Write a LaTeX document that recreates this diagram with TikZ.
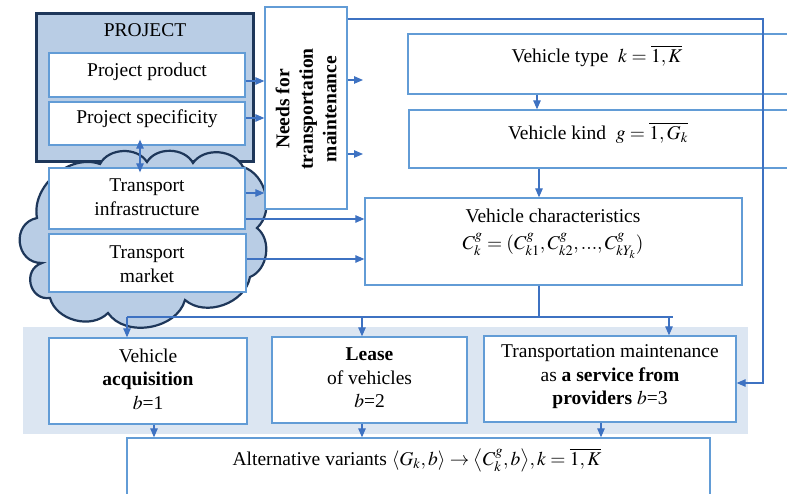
\documentclass[tikz,border=0pt]{standalone}
\usepackage{mathptmx}
\usepackage{fontspec}
\setmainfont{Liberation Serif}
\usetikzlibrary{arrows.meta,calc}
\definecolor{boxc}{RGB}{98,156,214}
\definecolor{arrc}{RGB}{62,114,194}
\definecolor{navy}{RGB}{30,55,90}
\definecolor{cloudfill}{RGB}{185,205,229}
\definecolor{bandc}{RGB}{220,230,242}
\newcommand\myfs{\fontsize{19.5}{23.5}\selectfont}
\tikzset{
  box/.style={draw=boxc, line width=1.3pt, fill=white, inner sep=0pt},
  arr/.style={draw=arrc, line width=1.1pt, -{Triangle[length=9pt,width=7.5pt]}},
  darr/.style={draw=arrc, line width=1.1pt, {Triangle[length=9pt,width=7.5pt]}-{Triangle[length=9pt,width=7.5pt]}},
  ln/.style={draw=arrc, line width=1.1pt},
  txt/.style={align=center, font=\myfs, inner sep=0pt},
  cloudst/.style={draw=navy, line width=2.2pt, fill=cloudfill},
}
\begin{document}
\begin{tikzpicture}[x=1pt,y=-1pt]
\clip (0,0) rectangle (787,494);
\fill[white] (0,0) rectangle (787,494);
% band
\fill[bandc] (23,327) rectangle (748,434);
% project
\node[draw=navy, line width=3pt, fill=cloudfill, minimum width=217, minimum height=148, inner sep=0pt] (proj) at (144.5,88) {};
% cloud
\draw[cloudst] (37,218) to[bend left=60] (100,164) to[bend left=60] (147,162) to[bend left=60] (193,163) to[bend left=60] (243,167)
  to[bend left=60] (257,228) to[bend left=60] (250,277) to[bend left=60] (185,300) to[bend left=65] (108,313)
  to[bend left=60] (50,298) to[bend left=85, looseness=1.5] (42,263) to[bend left=85, looseness=1.5] cycle;
% boxes
\node[box, minimum width=196, minimum height=44] (prod) at (147,75) {};
\node[box, minimum width=196, minimum height=43] (spec) at (147,123.5) {};
\node[box, minimum width=196, minimum height=61] (infra) at (147,198.5) {};
\node[box, minimum width=197, minimum height=58] (market) at (147.5,263) {};
\node[box, minimum width=82, minimum height=202] (needs) at (306,108) {};
\node[box, minimum width=392, minimum height=60] (vtype) at (604,64) {};
\node[box, minimum width=391, minimum height=58] (vkind) at (604.5,139) {};
\node[box, minimum width=377, minimum height=87] (char) at (553.5,241.5) {};
\node[box, minimum width=198, minimum height=86] (acq) at (148,381) {};
\node[box, minimum width=195, minimum height=86] (lease) at (369.5,380) {};
\node[box, minimum width=252, minimum height=86] (tm) at (610,379) {};
\node[box, minimum width=583, minimum height=82] (alt) at (418.5,479) {};
% texts
\node[txt] (tproj) at (145,30) {PROJECT};
\node[txt] (tprod) at (147,72) {Project product};
\node[txt] (tspec) at (147,119) {Project specificity};
\node[txt] (tinfra) at (147,197) {Transport\\infrastructure};
\node[txt] (tmarket) at (147,264) {Transport\\market};
\node[txt, rotate=90, font=\myfs\bfseries] (tneeds) at (306,109) {Needs for\\transportation\\maintenance};
\node[txt] (tvtype) at (597,56) {Vehicle type\ \ $k=\overline{1,K}$};
\node[txt] (tvkind) at (598,133) {Vehicle kind\ \ $g=\overline{1,G_k}$};
\node[txt] (tchar1) at (553,216) {Vehicle characteristics};
\node[txt] (tchar2) at (553,246) {$C_k^g=(C_{k1}^g,C_{k2}^g,{...},C_{kY_k}^g)$};
\node[txt] (tacq) at (148,379) {Vehicle\\\textbf{acquisition}\\$b$=1};
\node[txt] (tlease) at (369.5,378) {\textbf{Lease}\\of vehicles\\$b$=2};
\node[txt] (ttm) at (610,377) {Transportation maintenance\\as \textbf{a service from}\\\textbf{providers} $b$=3};
\node[txt] (talt) at (417,460) {Alternative variants $\langle G_k,b\rangle\to\bigl\langle C_k^g,b\bigr\rangle,k=\overline{1,K}$};
% connectors
\draw[arr] (prod.east |- 0,81) -- (needs.west |- 0,81);
\draw[arr] (spec.east |- 0,118) -- (needs.west |- 0,118);
\draw[arr] (infra.east |- 0,193) -- (needs.west |- 0,193);
\draw[arr] (infra.east |- 0,219) -- (char.west |- 0,219);
\draw[arr] (market.east |- 0,259) -- (char.west |- 0,259);
\coordinate (n1) at (363,80);
\coordinate (n2) at (363,154);
\draw[arr] (needs.east |- n1) -- (n1);
\draw[arr] (needs.east |- n2) -- (n2);
\coordinate (rt) at (763,19);
\coordinate (rb) at (763,383);
\draw[arr] (needs.east |- rt) -- (rt) -- (rb) -- (tm.east |- rb);
\draw[darr] ($(spec.south -| 140,0)+(0,-6)$) -- ($(infra.north -| 140,0)+(0,5)$);
\draw[arr] (vtype.south -| 537,0) -- (vkind.north -| 537,0);
\draw[arr] (vkind.south -| 539,0) -- (char.north -| 539,0);
\coordinate (j) at (539,317);
\coordinate (jl) at (127,317);
\coordinate (jr) at (673,317);
\draw[ln] (char.south -| j) -- (j);
\draw[ln] (jl) -- (jr);
\draw[arr] (jl) -- (acq.north -| jl);
\draw[arr] (362,317) -- (lease.north -| 362,0);
\draw[arr] (669,317) -- (tm.north -| 669,0);
\draw[arr] (acq.south -| 154,0) -- (alt.north -| 154,0);
\draw[arr] (lease.south -| 362,0) -- (alt.north -| 362,0);
\draw[arr] (tm.south -| 601,0) -- (alt.north -| 601,0);
\end{tikzpicture}
\end{document}
